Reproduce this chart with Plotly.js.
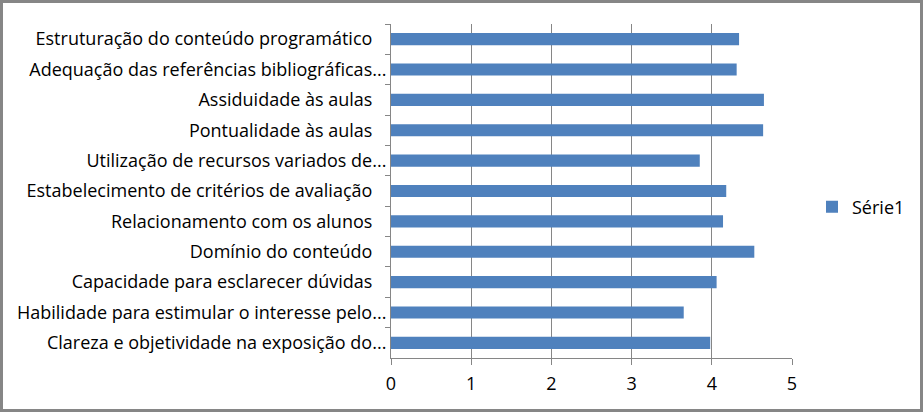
<!DOCTYPE html>
<html>
<head>
<meta charset="utf-8">
<script src="https://cdn.plot.ly/plotly-3.0.1.min.js"></script>
<style>
html,body{margin:0;padding:0;background:#fff;}
#chart{width:923px;height:412px;}
</style>
</head>
<body>
<div id="chart"></div>
<script>
// categories listed top to bottom as in the reference
const categories = [
  "Estruturação do conteúdo programático\u00a0\u00a0\u00a0",
  "Adequação das referências bibliográficas...",
  "Assiduidade às aulas\u00a0\u00a0\u00a0",
  "Pontualidade às aulas\u00a0\u00a0\u00a0",
  "Utilização de recursos variados de...",
  "Estabelecimento de critérios de avaliação\u00a0\u00a0\u00a0",
  "Relacionamento com os alunos\u00a0\u00a0\u00a0",
  "Domínio do conteúdo\u00a0\u00a0\u00a0",
  "Capacidade para esclarecer dúvidas\u00a0\u00a0\u00a0",
  "Habilidade para estimular o interesse pelo...",
  "Clareza e objetividade na exposição do..."
];
const serie1 = [4.34, 4.31, 4.65, 4.64, 3.85, 4.18, 4.14, 4.53, 4.06, 3.65, 3.98];
const seriesName = "Série1";
const xTicks = [0, 1, 2, 3, 4, 5];

const FONT = "Open Sans, Noto Sans, sans-serif";
const FS = 18;
const L = 391, R = 131, T = 24, B = 54, W = 923, H = 412;
const pw = W - L - R, ph = H - T - B;

const data = [{
  type: "bar",
  orientation: "h",
  y: categories,
  x: serie1,
  name: seriesName,
  marker: {color: "#4F81BD"},
  showlegend: true
}];

const layout = {
  width: W, height: H,
  margin: {l: L, r: R, t: T, b: B, pad: 0, autoexpand: false},
  paper_bgcolor: "#ffffff",
  plot_bgcolor: "#ffffff",
  font: {family: FONT, size: FS, color: "#000"},
  bargap: 0.6,
  showlegend: true,
  legend: {
    x: (812 - L) / pw, xanchor: "left",
    y: (358 - 207) / ph, yanchor: "middle",
    font: {family: FONT, size: FS, color: "#000"},
    bgcolor: "rgba(0,0,0,0)",
    itemwidth: 30
  },
  xaxis: {
    range: [0, 5],
    tickvals: xTicks,
    showgrid: true, gridcolor: "#868686", gridwidth: 1,
    showline: true, linecolor: "#868686", linewidth: 1,
    ticks: "outside", ticklen: 6, tickcolor: "#868686",
    ticklabelstandoff: 3,
    zeroline: false,
    tickfont: {family: FONT, size: FS, color: "#000"},
    automargin: false,
    fixedrange: true
  },
  yaxis: {
    type: "category",
    autorange: "reversed",
    tickson: "boundaries",
    showgrid: false,
    showline: true, linecolor: "#868686", linewidth: 1,
    ticks: "outside", ticklen: 5, tickcolor: "#868686",
    tickfont: {family: FONT, size: FS, color: "#000"},
    automargin: false,
    fixedrange: true
  },
  shapes: [{
    type: "rect", xref: "paper", yref: "paper",
    x0: (1.5 - L) / pw, x1: (W - 1.5 - L) / pw,
    y0: (T + ph - (H - 1.5)) / ph, y1: (T + ph - 1.5) / ph,
    line: {color: "#868686", width: 3},
    fillcolor: "rgba(0,0,0,0)",
    layer: "above"
  }]
};

Plotly.newPlot("chart", data, layout, {displayModeBar: false, staticPlot: true});
</script>
</body>
</html>
